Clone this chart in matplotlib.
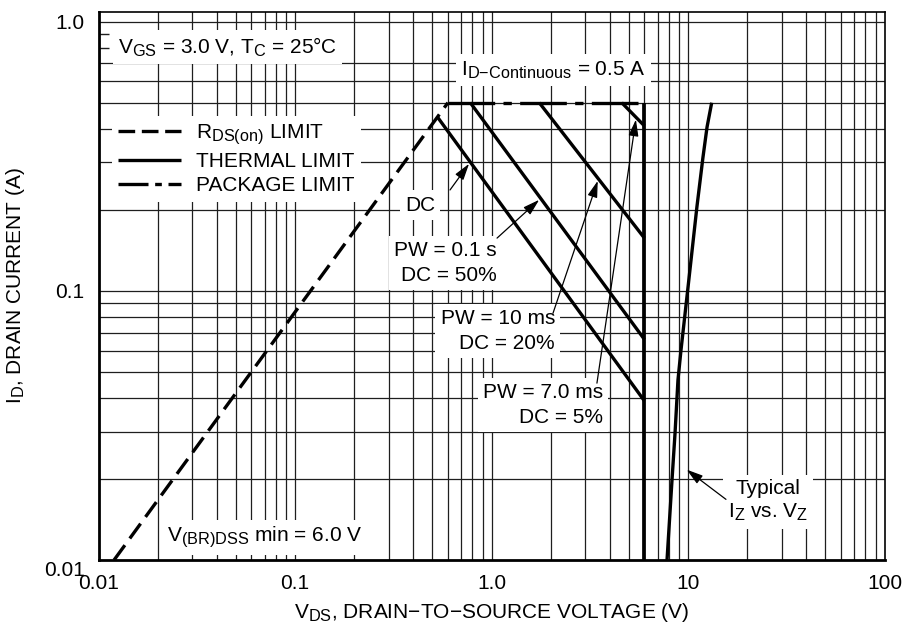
import numpy as np
import matplotlib
matplotlib.use('Agg')
from matplotlib import pyplot as plt
from matplotlib.lines import Line2D
from matplotlib.transforms import ScaledTranslation
import matplotlib._mathtext as mathtext_mod

plt.rcParams['font.family'] = 'Liberation Sans'
plt.rcParams['mathtext.fontset'] = 'custom'
plt.rcParams['mathtext.rm'] = 'Liberation Sans'
plt.rcParams['mathtext.it'] = 'Liberation Sans'
plt.rcParams['mathtext.default'] = 'regular'
plt.rcParams['font.size'] = 15
# datasheet subscripts are a bit bigger than the mathtext default
if hasattr(mathtext_mod, 'SHRINK_FACTOR'):
    mathtext_mod.SHRINK_FACTOR = 0.78

#------------- values -------------#
RdsV = [0.012, 0.6]
RdsI = [0.01, 0.5]

PackageV = [0.6, 6.0]
PackageI = [0.5, 0.5]

BreakdownV = [6.0, 6.0]
BreakdownI = [0.01, 0.5]

ThermDcV = [0.53, 6.0]
ThermDcI = [0.443, 0.039]
Pw100msV = [0.78, 6.0]
Pw100msI = [0.5, 0.066]
Pw10msV = [1.75, 6.0]
Pw10msI = [0.5, 0.157]
Pw7msV = [4.6, 6.0]
Pw7msI = [0.5, 0.41]

ZenerV = [7.82, 8.29, 8.59, 8.89, 9.21, 10.1, 11.1, 11.9, 12.5, 13.2]
ZenerI = [0.01, 0.0198, 0.0296, 0.0466, 0.0602, 0.11, 0.205, 0.311, 0.406, 0.5]

XTicks = [0.01, 0.1, 1.0, 10, 100]
XTickLabels = ['0.01', '0.1', '1.0', '10', '100']
YTicks = [0.01, 0.1, 1.0]
YTickLabels = ['0.01', '0.1', '1.0']

LegendLabels = [r'R$_{DS(on)}$ LIMIT', 'THERMAL LIMIT', 'PACKAGE LIMIT']


def OnLine(v, Vs, Is):
    return 10**np.interp(np.log10(v), np.log10(Vs), np.log10(Is))


fig = plt.figure(figsize=(9.07, 6.25), dpi=100)
ax = fig.add_axes([0.1086, 0.104, 0.8666, 0.8773])
ax.set_xscale('log'), ax.set_yscale('log')
ax.set_xlim(0.01, 100)
ax.set_ylim(0.01, 1.089)

# grid drawn by hand: the datasheet grid has no 0.8 / 0.9 lines
GridCol = '#1e1e1e'
for dec in [0.01, 0.1, 1, 10]:
    for m in range(1, 10):
        if dec * m > 0.01:
            ax.axvline(dec * m, color=GridCol, lw=0.9, zorder=1)
for v in [0.02, 0.03, 0.04, 0.05, 0.06, 0.07, 0.08, 0.09, 0.1,
          0.2, 0.3, 0.4, 0.5, 0.6, 0.7, 1.0]:
    ax.axhline(v, color=GridCol, lw=0.9, zorder=1)

# curves
LW = 2.4
ax.plot(RdsV, RdsI, color='k', lw=LW, ls=(0, (5.5, 2.5)), zorder=3)
ax.plot(PackageV, PackageI, color='k', lw=LW, ls=(0, (14, 2.5, 2.5, 2.5)), zorder=3)
ax.plot(BreakdownV, BreakdownI, color='k', lw=2.7, solid_capstyle='butt', zorder=3)
for Vs, Is in [(ThermDcV, ThermDcI), (Pw100msV, Pw100msI),
               (Pw10msV, Pw10msI), (Pw7msV, Pw7msI)]:
    ax.plot(Vs, Is, color='k', lw=LW, solid_capstyle='butt', zorder=3)
ax.plot(ZenerV, ZenerI, color='k', lw=LW, solid_capstyle='butt', zorder=3)

# ticks
ax.set_xticks(XTicks, labels=XTickLabels)
ax.set_yticks(YTicks, labels=YTickLabels)
ax.xaxis.set_minor_locator(matplotlib.ticker.NullLocator())
ax.yaxis.set_minor_locator(matplotlib.ticker.FixedLocator([0.8, 0.9]))
ax.yaxis.set_minor_formatter(matplotlib.ticker.NullFormatter())
ax.tick_params(which='major', length=0)
ax.tick_params(axis='x', which='major', pad=10)
ax.tick_params(axis='y', which='major', pad=10)
ax.tick_params(axis='y', which='minor', direction='in', length=7, width=1.0, color=GridCol)
lab = ax.get_yticklabels()[0]
lab.set_transform(lab.get_transform() + ScaledTranslation(0, -6 / 72, fig.dpi_scale_trans))

for side in ['left', 'bottom']:
    ax.spines[side].set_linewidth(2.0)
for side in ['top', 'right']:
    ax.spines[side].set_linewidth(1.2)
for s in ax.spines.values():
    s.set_zorder(6)

ax.set_xlabel(r'V$_{DS}$, DRAIN' + '\u2212TO\u2212SOURCE VOLTAGE (V)')
ax.set_ylabel(r'I$_D$, DRAIN CURRENT (A)')
ax.xaxis.set_label_coords(0.5, -0.095)
ax.xaxis.label.set_va('center')
ax.yaxis.set_label_coords(-0.106, 0.5)
ax.yaxis.label.set_va('center')

# text blocks
Box = dict(boxstyle='square,pad=0.25', fc='white', ec='none')
LS = 1.38
ax.text(0.01256, 0.805, r'V$_{GS}$ = 3.0 V, T$_C$ = 25°C', ha='left', va='center', bbox=Box, zorder=4)
ax.text(2.06, 0.661, r'I$_{D{-}Continuous}$ = 0.5 A', ha='center', va='center', bbox=Box, zorder=4)
ax.text(0.4327, 0.2083, 'DC', ha='center', va='center', bbox=Box, zorder=4)
ax.text(1.067, 0.1268, 'PW = 0.1 s\nDC = 50%', ha='right', va='center', ma='right',
        linespacing=LS, bbox=Box, zorder=4)
ax.text(2.105, 0.0708, 'PW = 10 ms\nDC = 20%', ha='right', va='center', ma='right',
        linespacing=LS, bbox=Box, zorder=4)
ax.text(3.69, 0.0376, 'PW = 7.0 ms\nDC = 5%', ha='right', va='center', ma='right',
        linespacing=LS, bbox=Box, zorder=4)
ax.text(25.5, 0.01652, 'Typical\nI$_Z$ vs. V$_Z$', ha='center', va='center', ma='center',
        linespacing=1.25, bbox=Box, zorder=4)
ax.text(0.0223, 0.01214, r'V$_{(BR)DSS}$ min = 6.0 V', ha='left', va='center', bbox=Box, zorder=4)

# arrows
Arrow = dict(arrowstyle='-|>,head_length=1.0,head_width=0.3', color='k', lw=0.9,
             mutation_scale=10, shrinkA=0, shrinkB=1.5)
ax.annotate('', xy=(0.78, OnLine(0.78, ThermDcV, ThermDcI)), xytext=(0.615, 0.237),
            arrowprops=Arrow, zorder=5)
ax.annotate('', xy=(1.78, OnLine(1.78, Pw100msV, Pw100msI)), xytext=(1.067, 0.157),
            arrowprops=Arrow, zorder=5)
ax.annotate('', xy=(3.5, OnLine(3.5, Pw10msV, Pw10msI)), xytext=(2.056, 0.0826),
            arrowprops=Arrow, zorder=5)
ax.annotate('', xy=(5.45, OnLine(5.45, Pw7msV, Pw7msI)), xytext=(3.44, 0.0454),
            arrowprops=Arrow, zorder=5)
ax.annotate('', xy=(9.65, 0.0219), xytext=(15.6, 0.0168), arrowprops=Arrow, zorder=5)

# legend with its own dash patterns
Handles = [Line2D([], [], color='k', lw=LW, ls=(0, (5, 2))),
           Line2D([], [], color='k', lw=LW, solid_capstyle='butt'),
           Line2D([], [], color='k', lw=LW, ls=(0, (9, 2, 2, 2)))]
leg = ax.legend(Handles, LegendLabels, loc='upper left', bbox_to_anchor=(0.0172, 0.809),
                frameon=True, fancybox=False, framealpha=1, edgecolor='none',
                handlelength=3.0, handletextpad=0.72, labelspacing=0.25,
                borderpad=0.3, borderaxespad=0)
leg.set_zorder(4)

fig.savefig('out.png', dpi=100)
